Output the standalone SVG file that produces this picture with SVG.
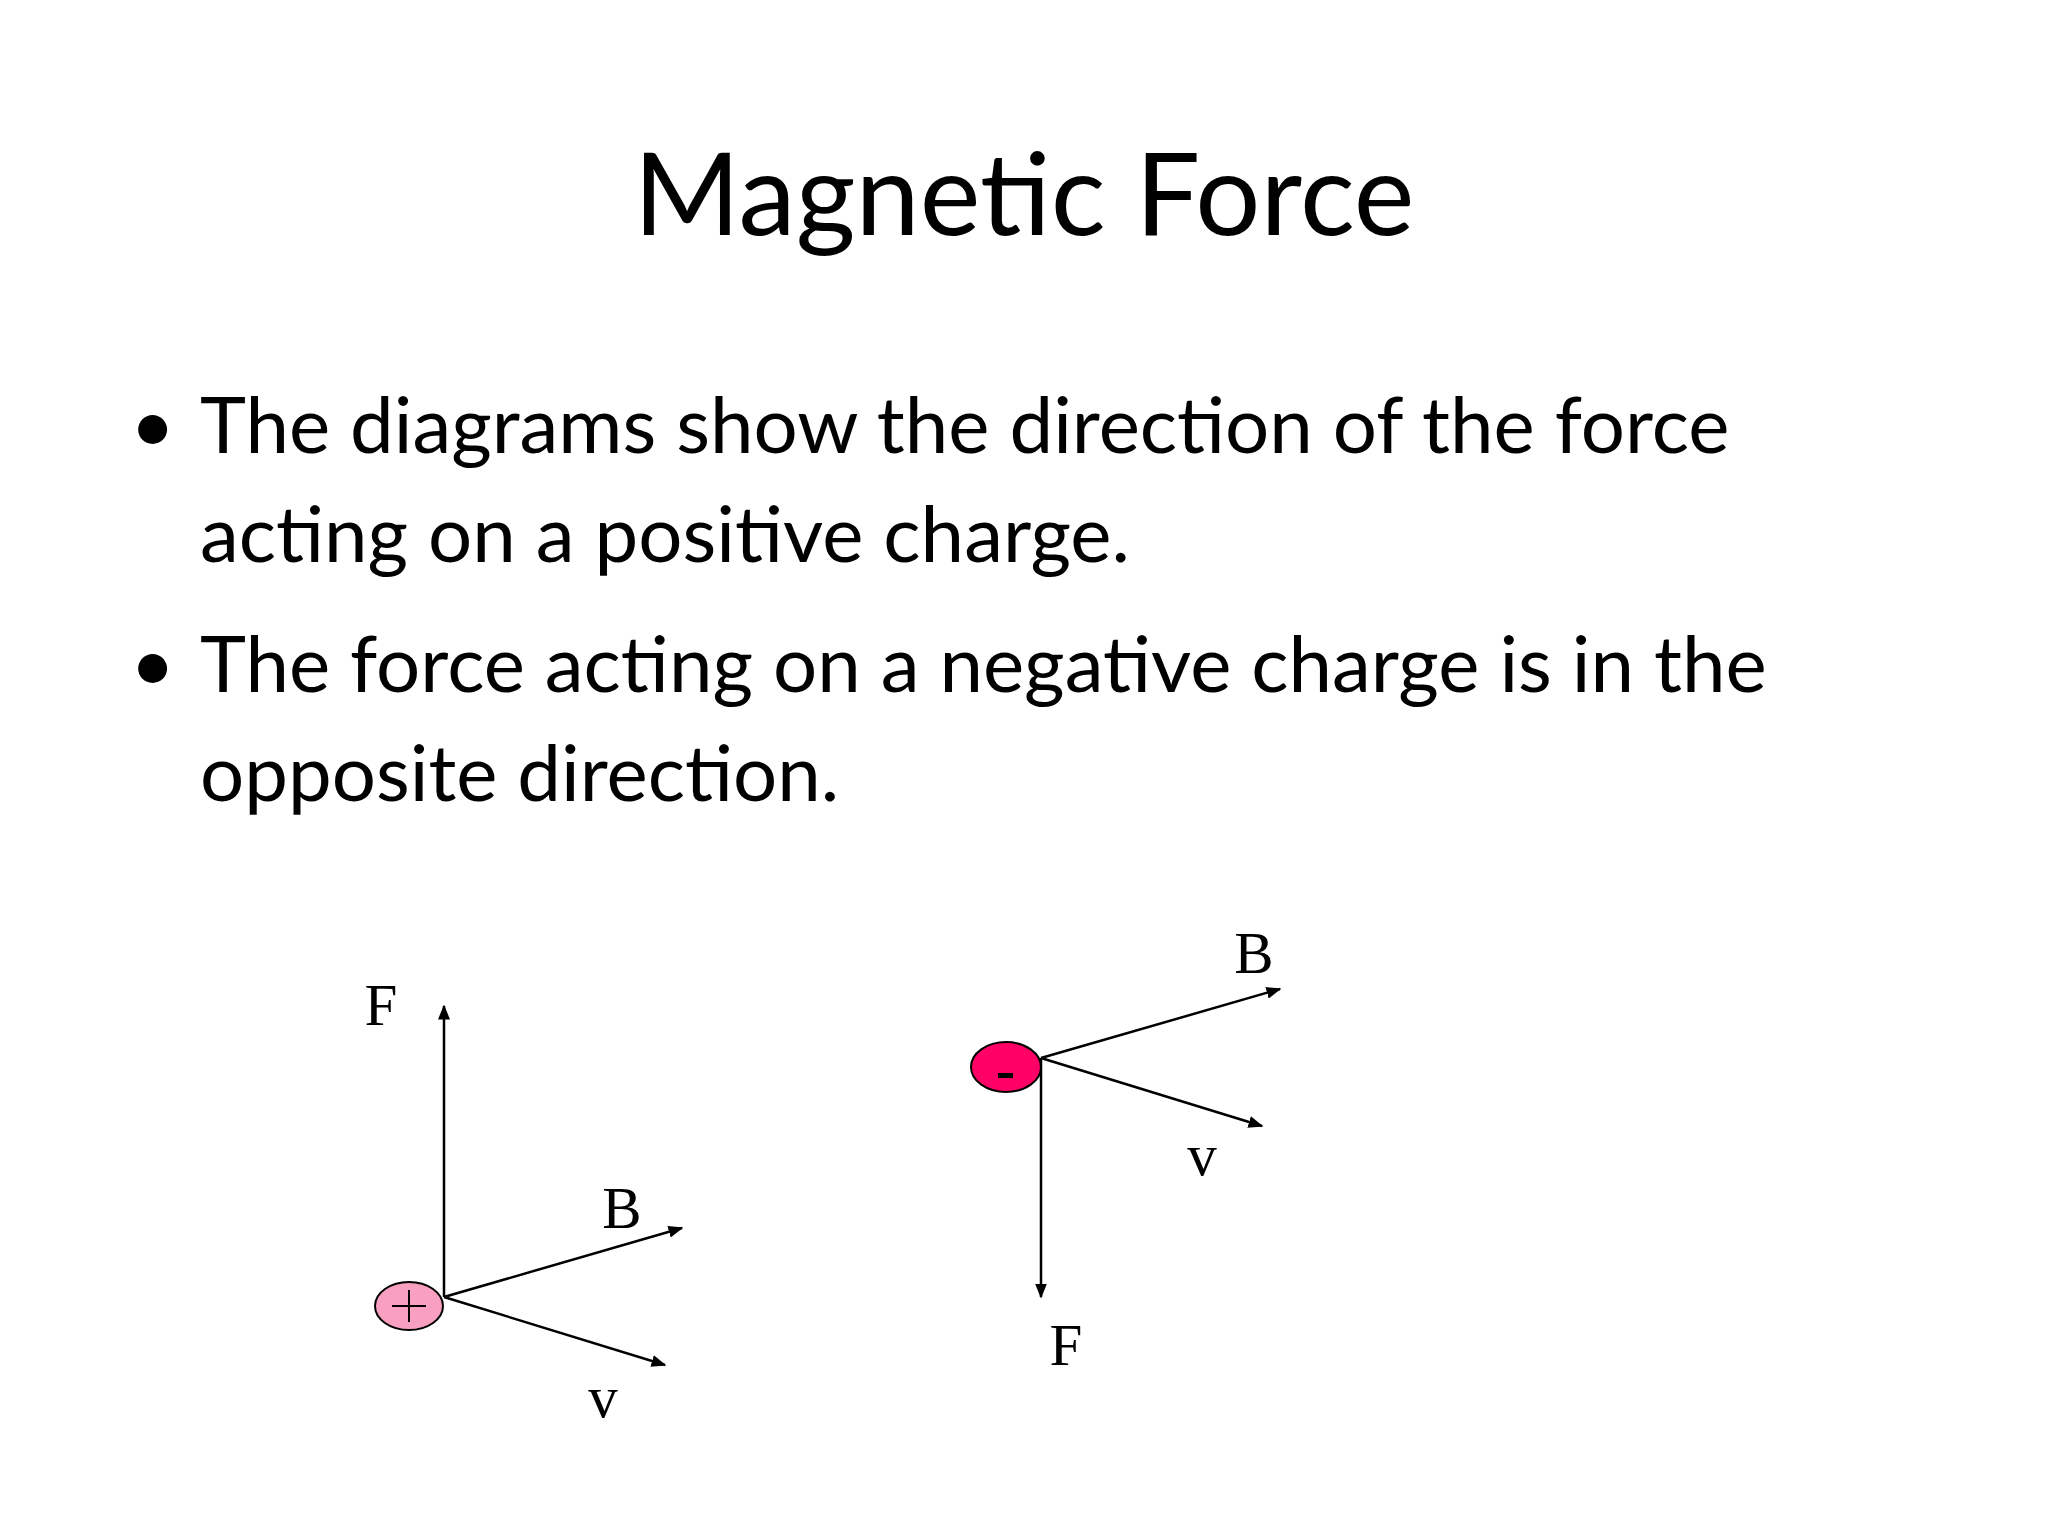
<svg xmlns="http://www.w3.org/2000/svg" width="2048" height="1536" viewBox="0 0 2048 1536">
<style>
.t{font-family:Lato,"Open Sans",sans-serif;fill:#000}
.l{font-family:"Liberation Serif",serif;font-size:59px;text-anchor:middle}
.a{stroke:#000;stroke-width:2.5;fill:none;marker-end:url(#ah)}
</style>
<defs><marker id="ah" viewBox="0 0 10 10" refX="9" refY="5" markerWidth="6" markerHeight="6" orient="auto"><path d="M0,1 L10,5 L0,9 z" fill="#000"/></marker></defs>
<rect width="2048" height="1536" fill="#fff"/>
<text class="t" x="1024" y="235" font-size="115" text-anchor="middle">Magnetic Force</text>
<g class="t" font-size="78">
<text x="130" y="453">•</text><text x="200" y="453">The diagrams show the direction of the force</text>
<text x="200" y="562">acting on a positive charge.</text>
<text x="130" y="692">•</text><text x="200" y="692">The force acting on a negative charge is in the</text>
<text x="200" y="801">opposite direction.</text>
</g>
<g id="connectors">
<line class="a" x1="444" y1="1297" x2="444" y2="1006"/>
<line class="a" x1="444" y1="1297" x2="682" y2="1228"/>
<line class="a" x1="444" y1="1297" x2="665" y2="1365"/>
<line class="a" x1="1041" y1="1058" x2="1280" y2="989"/>
<line class="a" x1="1041" y1="1058" x2="1262" y2="1126"/>
<line class="a" x1="1041" y1="1058" x2="1041" y2="1297"/>
</g>
<g id="pos"><ellipse cx="409" cy="1306" rx="34" ry="24" fill="#f99fc0" stroke="#000" stroke-width="2"/><path d="M392 1306h34M409 1290v32" stroke="#000" stroke-width="2"/></g>
<g id="neg"><ellipse cx="1006" cy="1067" rx="35" ry="25" fill="#ff0066" stroke="#000" stroke-width="2"/><rect x="998" y="1073" width="15" height="5" fill="#000"/></g>
<g id="labels">
<text class="l" x="381" y="1025">F</text><text class="l" x="622" y="1228">B</text><text class="l" x="603" y="1417">v</text>
<text class="l" x="1254" y="973">B</text><text class="l" x="1202" y="1175">v</text><text class="l" x="1066" y="1365">F</text>
</g>
</svg>
